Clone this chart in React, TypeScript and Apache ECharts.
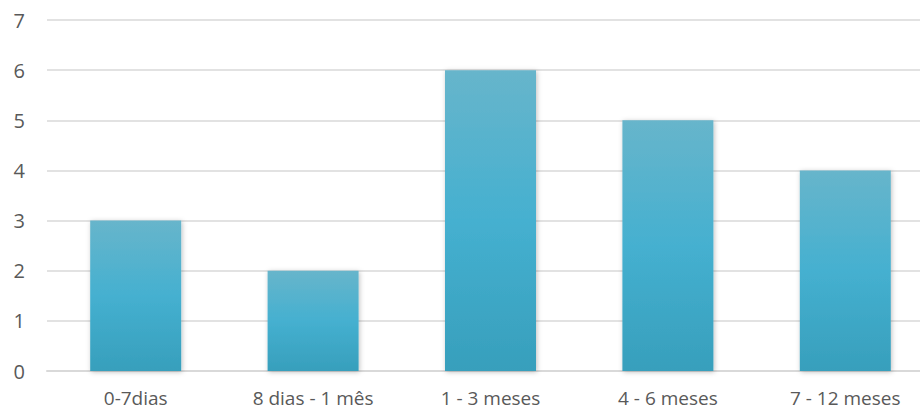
import React, { useEffect, useRef } from "react";
import * as echarts from "echarts";

const categories = ["0-7dias", "8 dias - 1 mês", "1 - 3 meses", "4 - 6 meses", "7 - 12 meses"];
const values = [3, 2, 6, 5, 4];
const yTicks = [0, 1, 2, 3, 4, 5, 6, 7];

export default function App() {
  const ref = useRef<HTMLDivElement>(null);
  useEffect(() => {
    const chart = echarts.init(ref.current!, null, { renderer: "svg" });
    chart.setOption({
      animation: false,
      backgroundColor: "#ffffff",
      grid: { left: 47, top: 20, right: 0, bottom: 43, containLabel: false },
      xAxis: {
        type: "category",
        data: categories,
        axisLine: { show: true, lineStyle: { color: "#d9d9d9", width: 2 } },
        axisTick: { show: false },
        axisLabel: { color: "#595959", fontSize: 19, fontFamily: "Open Sans", margin: 17 },
      },
      yAxis: {
        type: "value",
        min: yTicks[0],
        max: yTicks[yTicks.length - 1],
        interval: 1,
        axisLine: { show: false },
        axisTick: { show: false },
        splitLine: { lineStyle: { color: "#d9d9d9", width: 1.5 } },
        axisLabel: { color: "#595959", fontSize: 20, fontFamily: "Open Sans", margin: 22 },
      },
      series: [
        {
          type: "bar",
          data: values,
          barWidth: 91,
          itemStyle: {
            color: new echarts.graphic.LinearGradient(0, 0, 0, 1, [
              { offset: 0, color: "#67b5cb" },
              { offset: 0.5, color: "#45b0d0" },
              { offset: 1, color: "#379fbc" },
            ]),
            shadowBlur: 5,
            shadowColor: "rgba(0,0,0,0.25)",
            shadowOffsetX: 1,
            shadowOffsetY: 1,
          },
        },
      ],
    });
    return () => chart.dispose();
  }, []);
  return (
    <div style={{ width: 920, height: 414, position: "absolute", left: 0, top: 0, overflow: "hidden" }}>
      <div ref={ref} style={{ width: 934, height: 414 }} />
    </div>
  );
}
